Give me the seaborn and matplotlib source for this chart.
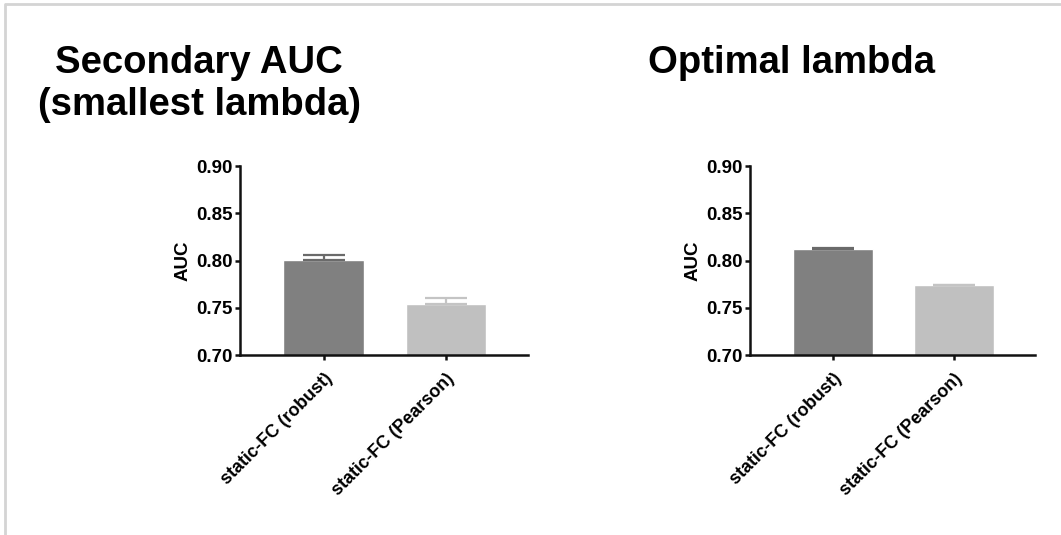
import matplotlib
matplotlib.use("Agg")
import matplotlib.pyplot as plt
import seaborn as sns
import numpy as np
from matplotlib.lines import Line2D

# ---- data ----
categories = ["static-FC (robust)", "static-FC (Pearson)"]
secondary_auc = [0.8005, 0.7535]
secondary_err = [0.0055, 0.0065]
optimal_auc = [0.8125, 0.774]
optimal_err = [0.0008, 0.0005]
titles = ["Secondary AUC\n(smallest lambda)", "Optimal lambda"]
y_ticks = [0.70, 0.75, 0.80, 0.85, 0.90]

bar_colors = ["#808080", "#c0c0c0"]
err_colors = ["#6a6a6a", "#c4c4c4"]

sns.set_theme(style="ticks")
plt.rcParams["font.family"] = ["Liberation Sans", "DejaVu Sans"]
plt.rcParams["font.weight"] = "bold"
plt.rcParams["text.color"] = "black"
plt.rcParams["axes.labelcolor"] = "black"
plt.rcParams["xtick.color"] = "black"
plt.rcParams["ytick.color"] = "black"

fig = plt.figure(figsize=(10.61, 5.35), dpi=100)
fig.patch.set_facecolor("white")

W, H = 1061, 535
ax_specs = [(240, 528), (750, 1035)]
y_top, y_bot = 166, 355

datasets = [(secondary_auc, secondary_err), (optimal_auc, optimal_err)]
title_centers = [(199, 45), (792, 45)]

for (x0, x1), (vals, errs), title, (tcx, tcy) in zip(ax_specs, datasets, titles, title_centers):
    ax = fig.add_axes([x0 / W, 1 - y_bot / H, (x1 - x0) / W, (y_bot - y_top) / H])
    sns.barplot(x=categories, y=vals, hue=categories, palette=bar_colors,
                width=0.66, errorbar=None, legend=False, ax=ax, saturation=1)
    for i, (v, e) in enumerate(zip(vals, errs)):
        ax.errorbar([i], [v], yerr=[[0], [e]], fmt="none", ecolor=err_colors[i],
                    elinewidth=1.6, capsize=15, capthick=1.6, zorder=1)
    ax.set_ylim(0.70, 0.90)
    ax.set_xlim(-0.685, 1.67)
    ax.set_yticks(y_ticks)
    ax.set_yticklabels([f"{t:.2f}" for t in y_ticks], fontsize=13.5, fontweight="bold")
    ax.set_xticks([0, 1])
    ax.set_xticklabels(categories, rotation=45, ha="right", rotation_mode="anchor",
                       fontsize=13, fontweight="bold")
    ax.set_ylabel("AUC", fontsize=13.5, fontweight="bold", labelpad=3)
    ax.set_xlabel("")
    for s in ["top", "right"]:
        ax.spines[s].set_visible(False)
    for s in ["left", "bottom"]:
        ax.spines[s].set_linewidth(1.8)
        ax.spines[s].set_color("#111111")
    ax.tick_params(axis="both", width=1.8, length=3.8, color="#111111", pad=1.5)
    ax.tick_params(axis="x", pad=7)
    ax.set_facecolor("none")
    fig.text(tcx / W, 1 - tcy / H, title, ha="center", va="top",
             fontsize=27.5, fontweight="bold", linespacing=1.2)

# faint frame shadow at top and left edges
fig.add_artist(Line2D([6 / W, 1], [1 - 4 / H, 1 - 4 / H], transform=fig.transFigure,
                      color="#d4d4d4", lw=2))
fig.add_artist(Line2D([5 / W, 5 / W], [0, 1 - 4 / H], transform=fig.transFigure,
                      color="#d4d4d4", lw=2))

fig.savefig("out.png", dpi=100, facecolor="white")
